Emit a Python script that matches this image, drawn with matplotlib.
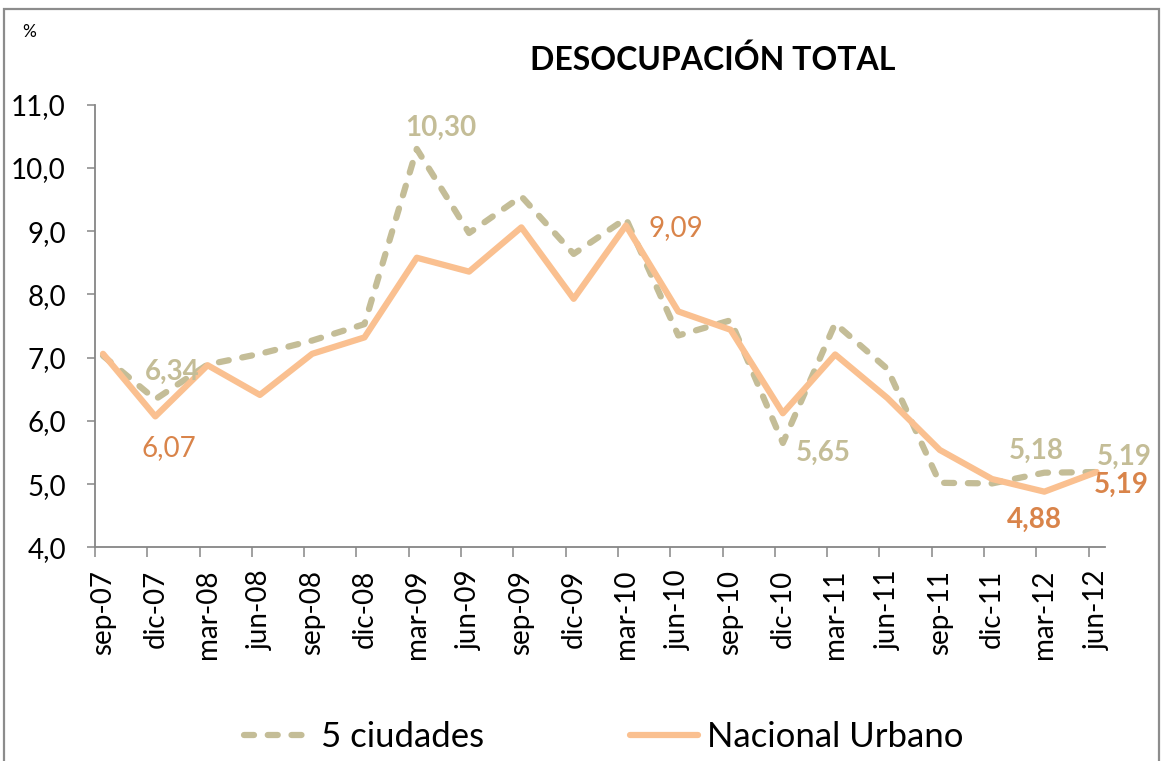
import matplotlib
matplotlib.use('Agg')
import matplotlib.pyplot as plt
import numpy as np
from matplotlib.patches import Rectangle

plt.rcParams['font.family'] = ['Lato', 'DejaVu Sans']

periods = ['sep-07', 'dic-07', 'mar-08', 'jun-08', 'sep-08', 'dic-08', 'mar-09', 'jun-09',
           'sep-09', 'dic-09', 'mar-10', 'jun-10', 'sep-10', 'dic-10', 'mar-11', 'jun-11',
           'sep-11', 'dic-11', 'mar-12', 'jun-12']
cinco_ciudades = [7.03, 6.34, 6.89, 7.06, 7.27, 7.53, 10.30, 8.97, 9.55, 8.64,
                  9.20, 7.35, 7.59, 5.65, 7.54, 6.82, 5.02, 5.01, 5.18, 5.19]
nacional_urbano = [7.06, 6.07, 6.88, 6.41, 7.06, 7.32, 8.58, 8.36, 9.06, 7.93,
                   9.09, 7.73, 7.44, 6.12, 7.05, 6.36, 5.54, 5.08, 4.88, 5.19]

# (indice, dx, dy en puntos, negrita)
labels_gray = [(1, 12, 20, True), (6, 17, 15, True), (13, 29, -7, True),
               (18, -6, 16, True), (19, 20, 11, True)]
labels_orange = [(1, 10, -23, False), (10, 36, -2, False), (18, -7, -20, True),
                 (19, 18, -9, True)]

GRAY = '#C4BD97'
ORANGE = '#FAC090'
ORANGE_TXT = '#D9844A'
AXIS = '#868686'

fig = plt.figure(figsize=(11.64, 7.61), dpi=100)
ax = fig.add_axes([95 / 1164, 1 - 547.3 / 761, 1010 / 1164, (547.3 - 104.7) / 761])

x = np.arange(len(periods))
ax.plot(x, cinco_ciudades, color=GRAY, lw=4.5, linestyle=(0, (1.6, 2.2)),
        dash_capstyle='round', solid_joinstyle='round', label='5 ciudades')
ax.plot(x, nacional_urbano, color=ORANGE, lw=4.5, solid_capstyle='round',
        solid_joinstyle='round', label='Nacional Urbano')

for i, dx, dy, bold in labels_gray:
    ax.annotate(f'{cinco_ciudades[i]:.2f}'.replace('.', ','), (x[i], cinco_ciudades[i]),
                xytext=(dx, dy), textcoords='offset points', ha='center', va='center',
                fontsize=20, color=GRAY, fontweight='bold' if bold else 'normal',
                annotation_clip=False)
for i, dx, dy, bold in labels_orange:
    ax.annotate(f'{nacional_urbano[i]:.2f}'.replace('.', ','), (x[i], nacional_urbano[i]),
                xytext=(dx, dy), textcoords='offset points', ha='center', va='center',
                fontsize=20, color=ORANGE_TXT, fontweight='bold' if bold else 'normal',
                annotation_clip=False)

ax.set_ylim(4, 11)
ax.set_xlim(-0.153, 19.16)
yt = np.arange(4, 12)
ax.set_yticks(yt)
ax.set_yticklabels([f'{v:.1f}'.replace('.', ',') for v in yt], fontsize=20)
ax.set_xticks(x - 0.153)
ax.set_xticklabels([])
ax.set_xticks(x, minor=True)
ax.set_xticklabels(periods, minor=True, rotation=90, fontsize=20)
ax.tick_params(axis='x', which='minor', length=0, pad=16)
ax.tick_params(axis='x', which='major', direction='out', length=7, width=1.1, color=AXIS)
ax.tick_params(axis='y', direction='out', length=6, width=1.1, color=AXIS, pad=15)

for side in ['top', 'right']:
    ax.spines[side].set_visible(False)
for side in ['left', 'bottom']:
    ax.spines[side].set_color(AXIS)
    ax.spines[side].set_linewidth(1.3)

fig.text(713 / 1164, 1 - 60 / 761, 'DESOCUPACIÓN TOTAL', ha='center', va='center',
         fontsize=23, fontweight='bold')
fig.text(29 / 1164, 1 - 32 / 761, '%', ha='center', va='center', fontsize=12.5)

fig.legend(loc='center', bbox_to_anchor=(604 / 1164, 1 - 737 / 761), ncol=2, frameon=False,
           fontsize=25, handlelength=1.96, handletextpad=0.26, columnspacing=4.2)

fig.patches.append(Rectangle((4 / 1164, -0.02), 1155 / 1164, 1.02 - 9 / 761,
                             transform=fig.transFigure, fill=False, edgecolor='#8C8C8C',
                             lw=1.6))

fig.savefig('out.png', dpi=100)
